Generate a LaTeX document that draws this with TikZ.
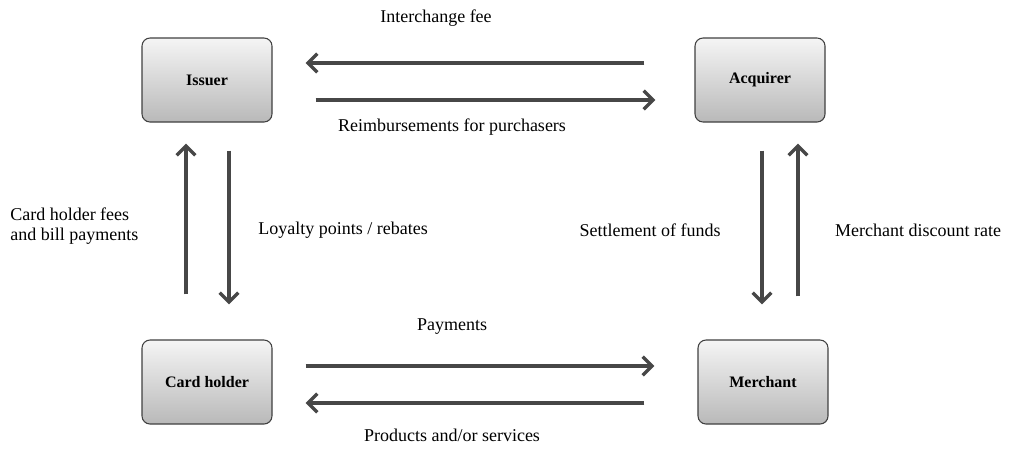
\documentclass[tikz,border=0pt]{standalone}
\usepackage{fontspec}
\setmainfont{Liberation Serif}
\usetikzlibrary{arrows.meta,positioning,calc}

\begin{document}
\begin{tikzpicture}[
  x=0.75pt, y=-0.75pt,
  font=\fontsize{13.5}{15}\selectfont,
  pbox/.style={draw=black!75, rounded corners=6pt, line width=0.8pt, align=center,
    minimum width=97.5pt, minimum height=63pt, inner sep=2pt,
    top color=gray!8, bottom color=gray!55, font=\fontsize{12}{14}\selectfont\bfseries},
  arr/.style={-{Straight Barb[length=7pt, width=14pt]}, line width=2.6pt, draw=black!72},
  lbl/.style={inner sep=0pt}
]
\useasboundingbox (0,0) rectangle (1010,451);
\node[pbox] (iss) at (207,80) {Issuer};
\node[pbox] (acq) at (760,80) {Acquirer};
\node[pbox] (ch) at (207,382) {Card holder};
\node[pbox] (mer) at (763,382) {Merchant};
% top pair
\draw[arr] ($(acq.west)+(-50,-17)$) -- ($(iss.east)+(33,-17)$);
\draw[arr] ($(iss.east)+(43,20)$) -- ($(acq.west)+(-39,20)$);
% left pair
\draw[arr] ($(ch.north)+(-21,-45)$) -- ($(iss.south)+(-21,21)$);
\draw[arr] ($(iss.south)+(22,28)$) -- ($(ch.north)+(22,-35)$);
% right pair
\draw[arr] ($(acq.south)+(2,28)$) -- ($(mer.north)+(-1,-35)$);
\draw[arr] ($(mer.north)+(35,-43)$) -- ($(acq.south)+(38,21)$);
% bottom pair
\draw[arr] ($(ch.east)+(33,-16)$) -- ($(mer.west)+(-43,-16)$);
\draw[arr] ($(mer.west)+(-53,21)$) -- ($(ch.east)+(33,21)$);
% labels
\node[lbl] (l1) at (436,18) {Interchange fee};
\node[lbl] (l2) at (452,127) {Reimbursements for purchasers};
\node[lbl, align=left, anchor=west] (l3) at (10,226) {Card holder fees\\and bill payments};
\node[lbl, anchor=west] (l4) at (258,230) {Loyalty points / rebates};
\node[lbl] (l5) at (650,230) {Settlement of funds};
\node[lbl] (l6) at (918,230) {Merchant discount rate};
\node[lbl] (l7) at (452,327) {Payments};
\node[lbl] (l8) at (452,435) {Products and/or services};
\end{tikzpicture}
\end{document}
